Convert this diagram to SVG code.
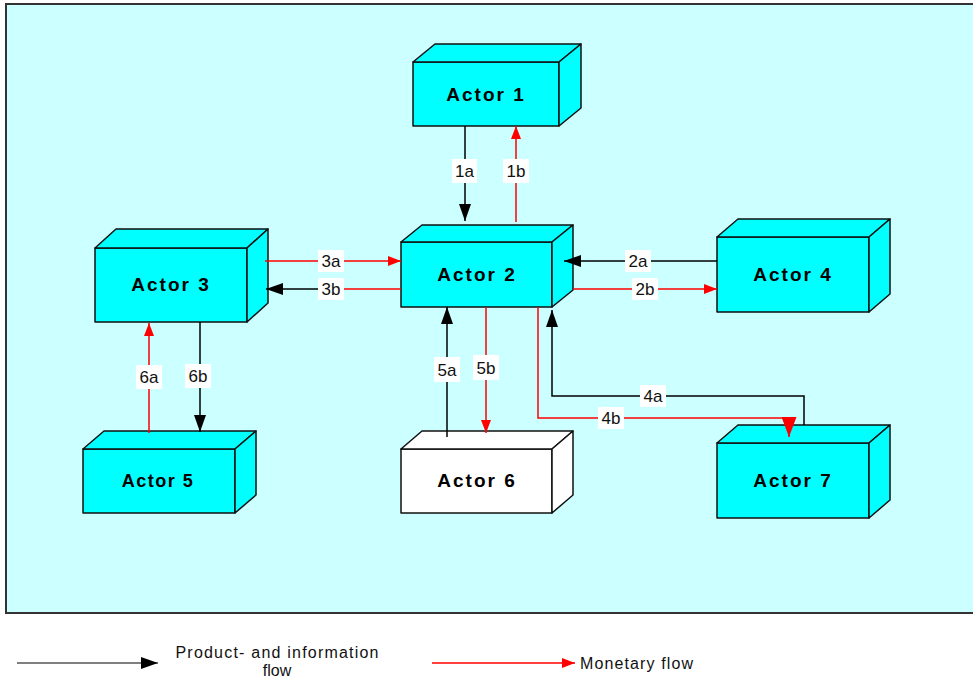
<svg xmlns="http://www.w3.org/2000/svg" width="973" height="680" viewBox="0 0 973 680">
<defs>
<style>
.box{fill:#00FFFF;stroke:#111;stroke-width:1.5;stroke-linejoin:round}
.white{fill:#FFFFFF}
.name{font-family:"Liberation Sans",Arial,sans-serif;font-weight:bold;font-size:19px;letter-spacing:2px;fill:#000;text-anchor:middle}
.blk{stroke:#000;stroke-width:1.5;fill:none}
.red{stroke:#FF0000;stroke-width:1.5;fill:none}
.lbg{fill:#FFFFFF}
.lbl{font-family:"Liberation Sans",Arial,sans-serif;font-size:17px;fill:#111;text-anchor:middle}
.leg{font-family:"Liberation Sans",Arial,sans-serif;font-size:16px;fill:#111}
</style>
<marker id="ab" markerUnits="userSpaceOnUse" markerWidth="17" markerHeight="12" refX="17" refY="6" orient="auto"><path d="M0,0 L17,6 L0,12 z" fill="#000"/></marker>
<marker id="ar" markerUnits="userSpaceOnUse" markerWidth="13" markerHeight="10" refX="13" refY="5" orient="auto"><path d="M0,0 L13,5 L0,10 z" fill="#FF0000"/></marker>
<marker id="arl" markerUnits="userSpaceOnUse" markerWidth="20" markerHeight="15" refX="20" refY="7.5" orient="auto"><path d="M0,0 L20,7.5 L0,15 z" fill="#FF0000"/></marker>
</defs>
<rect x="0" y="0" width="973" height="680" fill="#FFFFFF"/>
<rect x="6" y="4" width="975" height="609" fill="#CCFFFF" stroke="#333" stroke-width="2"/>

<g id="actor1">
<path class="box" d="M413,62 h146 v64 h-146 z"/>
<path class="box" d="M413,62 L435,44 L581,44 L559,62 z"/>
<path class="box" d="M559,62 L581,44 L581,108 L559,126 z"/>
<text class="name" x="486" y="101">Actor 1</text>
</g>
<g id="actor2">
<path class="box" d="M401,242 h151 v65 h-151 z"/>
<path class="box" d="M401,242 L422,225 L573,225 L552,242 z"/>
<path class="box" d="M552,242 L573,225 L573,290 L552,307 z"/>
<text class="name" x="477" y="281">Actor 2</text>
</g>
<g id="actor3">
<path class="box" d="M95,248 h152 v74 h-152 z"/>
<path class="box" d="M95,248 L116,229 L268,229 L247,248 z"/>
<path class="box" d="M247,248 L268,229 L268,303 L247,322 z"/>
<text class="name" x="171" y="291">Actor 3</text>
</g>
<g id="actor4">
<path class="box" d="M717,237 h152 v75 h-152 z"/>
<path class="box" d="M717,237 L738,219 L890,219 L869,237 z"/>
<path class="box" d="M869,237 L890,219 L890,294 L869,312 z"/>
<text class="name" x="793" y="281">Actor 4</text>
</g>
<g id="actor5">
<path class="box" d="M83,449 h152 v64 h-152 z"/>
<path class="box" d="M83,449 L104,431 L256,431 L235,449 z"/>
<path class="box" d="M235,449 L256,431 L256,495 L235,513 z"/>
<text class="name" x="158" y="487" style="font-size:18px;letter-spacing:1.5px">Actor 5</text>
</g>
<g id="actor6">
<path class="box white" d="M401,449 h151 v64 h-151 z"/>
<path class="box white" d="M401,449 L422,431 L573,431 L552,449 z"/>
<path class="box white" d="M552,449 L573,431 L573,495 L552,513 z"/>
<text class="name" x="477" y="487">Actor 6</text>
</g>
<g id="actor7">
<path class="box" d="M717,443 h152 v75 h-152 z"/>
<path class="box" d="M717,443 L738,425 L890,425 L869,443 z"/>
<path class="box" d="M869,443 L890,425 L890,500 L869,518 z"/>
<text class="name" x="793" y="487">Actor 7</text>
</g>

<g id="connectors">
<path class="blk" d="M465,126 V221" marker-end="url(#ab)"/>
<path class="red" d="M516,222 V126" marker-end="url(#ar)"/>
<path class="red" d="M265,261 H401" marker-end="url(#ar)"/>
<path class="red" d="M331,289 H401"/>
<path class="blk" d="M331,289 H266" marker-end="url(#ab)"/>
<path class="blk" d="M717,261 H564" marker-end="url(#ab)"/>
<path class="red" d="M573,289 H717" marker-end="url(#ar)"/>
<path class="blk" d="M447,437 V307" stroke-width="2" marker-end="url(#ab)"/>
<path class="red" d="M486,307 V433" marker-end="url(#ar)"/>
<path class="blk" d="M804,425 V396 H552 V310" stroke-width="2" marker-end="url(#ab)"/>
<path class="red" d="M538,307 V418 H789"/>
<path class="red" d="M789,417 V437" marker-end="url(#arl)"/>
<path class="red" d="M149,433 V323" marker-end="url(#ar)"/>
<path class="blk" d="M200,322 V432" marker-end="url(#ab)"/>

<g id="labels">
<rect class="lbg" x="452" y="159" width="25" height="24"/><text class="lbl" x="464.5" y="177">1a</text>
<rect class="lbg" x="503" y="159" width="26" height="24"/><text class="lbl" x="516" y="177">1b</text>
<rect class="lbg" x="318" y="250" width="26" height="22"/><text class="lbl" x="331" y="267">3a</text>
<rect class="lbg" x="318" y="278" width="26" height="22"/><text class="lbl" x="331" y="295">3b</text>
<rect class="lbg" x="625" y="250" width="26" height="22"/><text class="lbl" x="638" y="267">2a</text>
<rect class="lbg" x="632" y="278" width="26" height="22"/><text class="lbl" x="645" y="295">2b</text>
<rect class="lbg" x="434" y="357" width="26" height="25"/><text class="lbl" x="447" y="375.5">5a</text>
<rect class="lbg" x="473" y="355" width="26" height="25"/><text class="lbl" x="486" y="373.5">5b</text>
<rect class="lbg" x="640" y="385" width="26" height="22"/><text class="lbl" x="653" y="402">4a</text>
<rect class="lbg" x="598" y="407" width="26" height="22"/><text class="lbl" x="611" y="424">4b</text>
<rect class="lbg" x="136" y="365" width="26" height="24"/><text class="lbl" x="149" y="383">6a</text>
<rect class="lbg" x="185" y="364" width="26" height="24"/><text class="lbl" x="198" y="382">6b</text>
</g>
</g>

<g id="legend">
<path d="M17,663 H158" stroke="#555" stroke-width="1.5" fill="none" marker-end="url(#ab)"/>
<text class="leg" x="277" y="658" text-anchor="middle" textLength="203" lengthAdjust="spacing">Product- and information</text>
<text class="leg" x="277" y="676" text-anchor="middle">flow</text>
<path class="red" d="M432,663 H575" marker-end="url(#ar)"/>
<text class="leg" x="580" y="669" textLength="113" lengthAdjust="spacing">Monetary flow</text>
</g>
</svg>
